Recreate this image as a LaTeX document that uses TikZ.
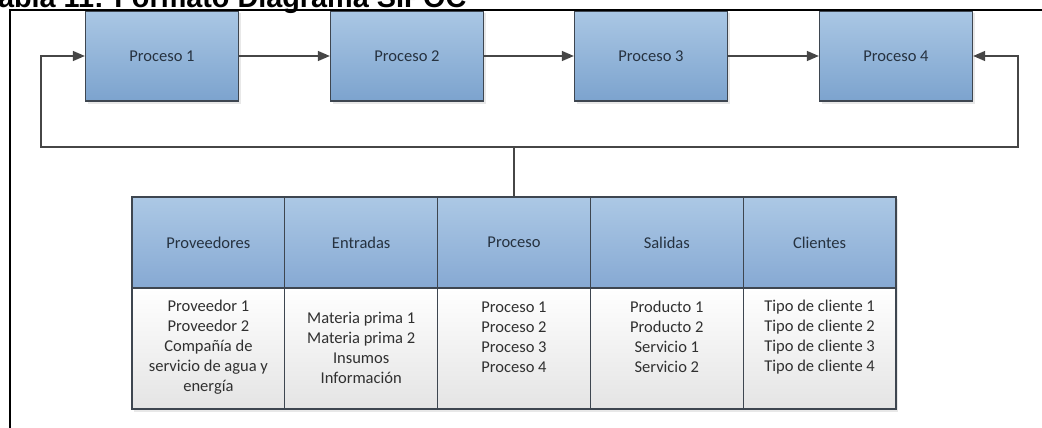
\documentclass[tikz,border=0pt]{standalone}
\usepackage{fontspec}
\setmainfont{Carlito}
\newfontfamily\titlefont{Liberation Sans}
\usetikzlibrary{arrows.meta}

\definecolor{boxtop}{RGB}{170,199,228}
\definecolor{boxbot}{RGB}{124,163,206}
\definecolor{headtop}{RGB}{172,200,229}
\definecolor{headbot}{RGB}{134,169,211}
\definecolor{bodybot}{RGB}{228,228,228}
\definecolor{edge}{RGB}{62,70,80}
\definecolor{wire}{RGB}{70,70,70}
\definecolor{ink}{RGB}{48,48,48}
\definecolor{headink}{RGB}{38,50,64}

\begin{document}
\begin{tikzpicture}[x=1pt,y=-1pt,
  cellfont/.style={font=\fontsize{16.5}{20}\selectfont},
  softshadow/.style={preaction={fill=black!9, draw=none, transform canvas={xshift=2pt,yshift=-2.5pt}}},
  procbox/.style={softshadow, draw=edge, line width=1.3pt, top color=boxtop, bottom color=boxbot,
    minimum width=153pt, minimum height=90pt, inner sep=0pt, text=headink, cellfont},
  headcell/.style={draw=edge, line width=1.3pt, top color=headtop, bottom color=headbot,
    minimum width=152.8pt, minimum height=91pt, inner sep=0pt, text=headink, cellfont},
  bodycell/.style={draw=edge, line width=1.3pt, top color=white, bottom color=bodybot,
    minimum width=152.8pt, minimum height=121pt, inner sep=0pt},
  celltext/.style={align=center, inner sep=0pt, text=ink, cellfont},
  flow/.style={draw=wire, line width=1.4pt, -{Triangle[length=12pt,width=10pt]}},
  wireline/.style={draw=wire, line width=1.4pt}
]
\useasboundingbox (0,0) rectangle (1042,428);

% caption, mostly cut off by the top of the page
\node[anchor=base west, inner sep=0pt, font=\titlefont\bfseries\fontsize{28.8}{28.8}\selectfont]
  (title) at (-17.6,8) {Tabla 11: Formato Diagrama SIPOC};

% process chain
\node[procbox] (p1) at (162,56) {Proceso 1};
\node[procbox] (p2) at (407,56) {Proceso 2};
\node[procbox] (p3) at (651,56) {Proceso 3};
\node[procbox] (p4) at (896,56) {Proceso 4};

\draw[flow] (p1) -- (p2);
\draw[flow] (p2) -- (p3);
\draw[flow] (p3) -- (p4);

% SIPOC table
\fill[black!9] (134,199) rectangle (898,411.5);
\node[headcell] (h1) at (208.4,242.5) {Proveedores};
\node[headcell] (h2) at (361.2,242.5) {Entradas};
\node[headcell] (h3) at (514.0,242.5) {Proceso};
\node[headcell] (h4) at (666.8,242.5) {Salidas};
\node[headcell] (h5) at (819.6,242.5) {Clientes};

\node[bodycell] (b1) at (208.4,348.5) {};
\node[bodycell] (b2) at (361.2,348.5) {};
\node[bodycell] (b3) at (514.0,348.5) {};
\node[bodycell] (b4) at (666.8,348.5) {};
\node[bodycell] (b5) at (819.6,348.5) {};

\node[celltext] (t1) at (208.4,347) {Proveedor 1\\Proveedor 2\\Compañía de\\servicio de agua y\\energía};
\node[celltext] (t2) at (361.2,348) {Materia prima 1\\Materia prima 2\\Insumos\\Información};
\node[celltext] (t3) at (514.0,337) {Proceso 1\\Proceso 2\\Proceso 3\\Proceso 4};
\node[celltext] (t4) at (666.8,337) {Producto 1\\Producto 2\\Servicio 1\\Servicio 2};
\node[celltext] (t5) at (819.6,337) {Tipo de cliente 1\\Tipo de cliente 2\\Tipo de cliente 3\\Tipo de cliente 4};

% feedback loop from the table back to the chain
\coordinate (tap) at (514,147);
\coordinate (loopl) at (41,147);
\coordinate (loopr) at (1018,147);
\coordinate (inl) at (41,56);
\coordinate (inr) at (1018,56);

\draw[wireline] (h3.north) -- (tap);
\draw[flow] (tap) -- (loopl) -- (inl) -- (p1.west);
\draw[flow] (tap) -- (loopr) -- (inr) -- (p4.east);

% page frame
\draw[line width=2.6pt, black] (10,450) -- (10,10) -- (1060,10);
\end{tikzpicture}
\end{document}
